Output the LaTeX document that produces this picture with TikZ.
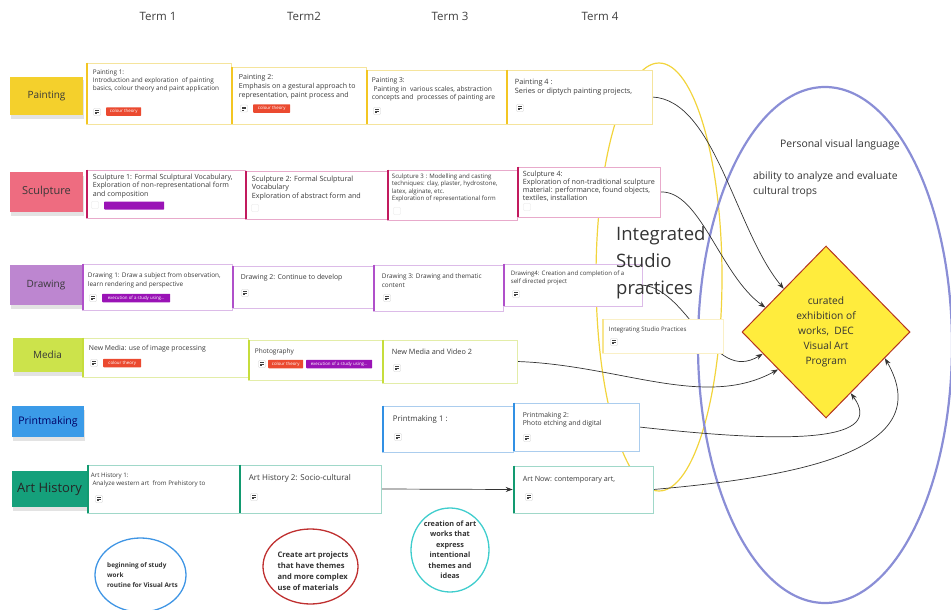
\documentclass[tikz,border=0pt]{standalone}
\usepackage{fontspec}
\setmainfont{Open Sans}
\usetikzlibrary{shapes.geometric,shadows,arrows.meta,calc}
\pgfdeclarelayer{bg}
\pgfsetlayers{bg,main}
\definecolor{txt}{HTML}{3A3A3A}
\definecolor{paintSt}{HTML}{F4D02C}
\definecolor{paintAcc}{HTML}{F3C623}
\definecolor{paintBd}{HTML}{F5E49C}
\definecolor{sculSt}{HTML}{EE6C80}
\definecolor{sculAcc}{HTML}{C21A5E}
\definecolor{sculBd}{HTML}{E8AACB}
\definecolor{drawSt}{HTML}{BD86D0}
\definecolor{drawAcc}{HTML}{B050CA}
\definecolor{drawBd}{HTML}{DCBBE8}
\definecolor{mediaSt}{HTML}{CCE34B}
\definecolor{mediaAcc}{HTML}{C6DD3C}
\definecolor{mediaBd}{HTML}{E3EDA8}
\definecolor{printSt}{HTML}{3B9BE8}
\definecolor{printAcc}{HTML}{3190E4}
\definecolor{printBd}{HTML}{ABCDEE}
\definecolor{artSt}{HTML}{15A07B}
\definecolor{artAcc}{HTML}{129A70}
\definecolor{artBd}{HTML}{A0D8C9}
\definecolor{ispAcc}{HTML}{F8E58E}
\definecolor{ispBd}{HTML}{FAF0C6}
\definecolor{tagRed}{HTML}{EB4A30}
\definecolor{tagPurple}{HTML}{9A13B6}
\definecolor{ellYellow}{HTML}{F2D43C}
\definecolor{ellBlue}{HTML}{8A8ED6}
\definecolor{diaFill}{HTML}{FFEC3D}
\definecolor{diaDraw}{HTML}{B5341F}
\definecolor{circBlue}{HTML}{3F95E4}
\definecolor{circRed}{HTML}{BF3030}
\definecolor{circTeal}{HTML}{3FCDCD}
\definecolor{connCol}{HTML}{333333}

% name, x, y, w, h, family, font style, text offset (x,y), text
\newcommand\card[9]{%
  \node[cardbox, draw=#6Bd, minimum width=#4pt, minimum height=#5pt] (#1) at ({#2+#4/2},{#3+#5/2}) {};
  \draw[#6Acc, line width=2pt] ([xshift=1pt]#1.north west) -- ([xshift=1pt]#1.south west);
  \node[cardtext, #7] (#1-t) at ([shift={(#8)}]#1.north west) {#9};}
\newcommand\noteicon[2]{\node[noteic] (#1) at #2 {};}
\newcommand\faintsq[2]{\node[faintic] (#1) at #2 {};}

\begin{document}
\begin{tikzpicture}[x=1pt,y=-1pt,
  cardbox/.style={fill=white, line width=0.6pt, inner sep=0pt},
  cardtext/.style={anchor=north west, align=left, inner sep=0pt, text=txt},
  fs/.style 2 args={font=\fontsize{#1}{#2}\selectfont},
  sticky/.style={inner sep=0pt, text=black!78, font=\fontsize{10}{12}\selectfont,
     drop shadow={shadow xshift=1pt, shadow yshift=-3.5pt, opacity=0.22}},
  noteic/.style={draw=black!18, fill=white, minimum size=7pt, inner sep=0pt, rounded corners=0.8pt,
     path picture={\draw[black!75, line width=0.55pt]
       ([shift={(-2pt,1.5pt)}]path picture bounding box.center) -- ++(4pt,0pt)
       ([shift={(-2pt,0pt)}]path picture bounding box.center) -- ++(4pt,0pt)
       ([shift={(-2pt,-1.5pt)}]path picture bounding box.center) -- ++(2.4pt,0pt);}},
  faintic/.style={draw=black!10, fill=white, minimum size=7pt, inner sep=0pt, rounded corners=0.8pt},
  tag/.style={fill=#1, text=white, font=\fontsize{4.4}{5}\selectfont, inner xsep=1.5pt, inner ysep=0pt,
     minimum height=8.5pt, anchor=west, rounded corners=0.6pt},
  conn/.style={draw=connCol, line width=0.7pt, -{Stealth[length=7pt,width=5pt]}},
  term/.style={font=\fontsize{11.5}{13}\selectfont, text=black!75},
  bubble/.style={text=black!80, inner sep=0pt}
]
\path[use as bounding box] (0,0) rectangle (951,610);

% term headers
\node[term] (t1) at (158,16) {Term 1};
\node[term] (t2) at (304,16) {Term2};
\node[term] (t3) at (450,16) {Term 3};
\node[term] (t4) at (600,16) {Term 4};

% row labels
\node[sticky, fill=paintSt, minimum width=73pt, minimum height=38pt] (painting) at (46.5,96) {Painting};
\node[sticky, fill=sculSt, font=\fontsize{11}{13}\selectfont, minimum width=73pt, minimum height=40pt] (sculpture) at (46.5,192) {Sculpture};
\node[sticky, fill=drawSt, minimum width=72pt, minimum height=40pt] (drawing) at (46,285) {Drawing};
\node[sticky, fill=mediaSt, minimum width=70pt, minimum height=34pt] (media) at (47.5,355) {Media};
\node[sticky, fill=printSt, text=blue!40!black, font=\fontsize{10.5}{12}\selectfont, minimum width=72pt, minimum height=31pt] (printmaking) at (48,421.5) {Printmaking};
\node[sticky, fill=artSt, text=black!85, font=\fontsize{13}{15}\selectfont, minimum width=75pt, minimum height=36pt] (arthistory) at (49.5,489) {Art History};

% Painting row
\card{p1}{86}{63}{145}{61}{paint}{fs={6.4}{8.2}}{7,7}{Painting 1:\\Introduction and exploration\ \ of painting\\basics, colour theory and paint application}
\noteicon{p1i}{(97,112)}
\node[tag=tagRed, minimum width=35pt] (p1g) at (106,111.5) {colour theory};
\card{p2}{231}{67}{135}{57}{paint}{fs={7}{9}}{8,7}{Painting 2:\\Emphasis on a gestural approach to\\representation, paint process and}
\noteicon{p2i}{(244,108.5)}
\node[tag=tagRed, minimum width=37pt] (p2g) at (253,108.5) {colour theory};
\card{p3}{366}{70}{140}{54}{paint}{fs={6.7}{8.4}}{6,8}{Painting 3:\\\ Painting in\ \ various scales, abstraction\\concepts and\ \ processes of painting are}
\noteicon{p3i}{(377,111)}
\card{p4}{506}{70}{146}{54}{paint}{fs={7.3}{8.8}}{9,9}{Painting 4 :\\Series or diptych painting projects,}
\noteicon{p4i}{(520,108)}

% Sculpture row
\card{s1}{86}{170}{159}{48}{scul}{fs={7.1}{8.4}}{7,4}{Sculpture 1: Formal Sculptural Vocabulary,\\Exploration of non-representational form\\and composition}
\faintsq{s1i}{(95,205)}
\node[tag=tagPurple, minimum width=60pt, minimum height=8pt] (s1g) at (104,205.5) {};
\card{s2}{245}{171}{142}{48}{scul}{fs={7.2}{8.6}}{7,5}{Sculpture 2: Formal Sculptural\\Vocabulary\\Exploration of abstract form and}
\faintsq{s2i}{(255,208)}
\card{s3}{387}{170}{130}{50}{scul}{fs={6.1}{7.3}}{5,4}{Sculpture 3 : Modelling and casting\\techniques: clay, plaster, hydrostone,\\latex, alginate, etc.\\Exploration of representational form}
\faintsq{s3i}{(397,211)}
\card{s4}{517}{167}{143}{50}{scul}{fs={7.2}{8.2}}{6,4}{Sculpture 4:\\Exploration of non-traditional sculpture\\material: performance, found objects,\\textiles, installation}
\faintsq{s4i}{(527,207)}

% Drawing row
\card{d1}{82}{264}{150}{46}{draw}{fs={6.4}{8.5}}{6,9}{Drawing 1: Draw a subject from observation,\\learn rendering and perspective}
\noteicon{d1i}{(93,298)}
\node[tag=tagPurple, minimum width=68pt] (d1g) at (102,298) {execution of a study using...};
\card{d2}{232}{266}{141}{42}{draw}{fs={6.9}{8.5}}{9,8}{Drawing 2: Continue to develop}
\noteicon{d2i}{(245,293)}
\card{d3}{373}{265}{130}{46}{draw}{fs={6.4}{8.3}}{9,9}{Drawing 3: Drawing and thematic\\content}
\noteicon{d3i}{(387,298)}
\card{d4}{503}{264}{139}{42}{draw}{fs={6.1}{7.8}}{8,7}{Drawing4: Creation and completion of a\\self directed project}
\noteicon{d4i}{(516,294)}

% Media row
\card{m1}{82}{338}{166}{39}{media}{fs={6.85}{8.5}}{7,7}{New Media: use of image processing}
\noteicon{m1i}{(94,363)}
\node[tag=tagRed, minimum width=38pt] (m1g) at (103,363) {colour theory};
\card{m2}{248}{340}{134}{40}{media}{fs={6.5}{8.5}}{7,9}{Photography}
\noteicon{m2i}{(262,364)}
\node[tag=tagRed, minimum width=35pt] (m2g) at (268,364) {colour theory};
\node[tag=tagPurple, minimum width=66pt] (m2h) at (306,364) {execution of a study using...};
\card{m3}{382}{340}{135}{43}{media}{fs={7.3}{9}}{10,9}{New Media and Video 2}
\noteicon{m3i}{(397,368)}

% Integrating studio practices card
\card{isp}{602}{319}{121}{34}{isp}{fs={6.1}{7}}{7,8}{Integrating Studio Practices}
\noteicon{ispi}{(614,342)}

% Printmaking row
\card{pr1}{382}{406}{131}{46}{print}{fs={7.8}{9}}{11,10}{Printmaking 1 :}
\noteicon{pr1i}{(398,437)}
\card{pr2}{513}{403}{126}{48}{print}{fs={6.8}{8.2}}{10,9}{Printmaking 2:\\Photo etching and digital}
\noteicon{pr2i}{(527,438)}

% Art history row
\card{ah1}{87}{465}{152}{48}{art}{fs={6.2}{7.8}}{4,8}{Art History 1:\\\ Analyze western art\ \ from Prehistory to}
\noteicon{ah1i}{(99,499)}
\card{ah2}{239}{465}{142}{48}{art}{fs={8}{9}}{10,10}{Art History 2: Socio-cultural}
\noteicon{ah2i}{(254,497)}
\card{an}{513}{466}{140}{47}{art}{fs={7.2}{9}}{10,10}{Art Now: contemporary art,}
\noteicon{ani}{(529,497)}

% goal diamond
\node[diamond, draw=diaDraw, fill=diaFill, line width=1pt, minimum width=168pt, minimum height=172pt,
      inner sep=0pt, align=center, font=\fontsize{10.2}{15}\selectfont, text=black!80] (goal) at (826,332)
      {curated\\exhibition of\\works,\ \ DEC\\Visual Art\\Program};

% free texts
\node[anchor=north west, align=left, inner sep=0pt, font=\fontsize{18.5}{27}\selectfont, text=black!80] (isptext) at (616,226) {Integrated\\Studio\\practices};
\node[font=\fontsize{10.4}{12}\selectfont, text=black!80] (pvl) at (840,145) {Personal visual language};
\node[anchor=west, align=left, inner sep=0pt, font=\fontsize{10.3}{14.5}\selectfont, text=black!80] (abil) at (753,184.5) {ability to analyze and evaluate\\cultural trops};

% bottom bubbles
\node[ellipse, draw=circBlue, line width=1.3pt, minimum width=91pt, minimum height=74pt] (b1) at (140.5,575) {};
\node[bubble, align=left, font=\bfseries\fontsize{6.4}{10}\selectfont] (b1t) at (142.5,575) {beginning of study\\work\\routine for Visual Arts};
\node[ellipse, draw=circRed, line width=1.3pt, minimum width=95pt, minimum height=75pt] (b2) at (310.5,566.5) {};
\node[bubble, align=left, font=\bfseries\fontsize{7.6}{11}\selectfont] (b2t) at (313,571) {Create art projects\\that have themes\\and more complex\\use of materials};
\node[ellipse, draw=circTeal, line width=1.3pt, minimum width=78pt, minimum height=84pt] (b3) at (450,550) {};
\node[bubble, align=center, font=\bfseries\fontsize{7.3}{10.5}\selectfont] (b3t) at (450,549.5) {creation of art\\works that\\express\\intentional\\themes and\\ideas};

% background: ellipses and connectors
\begin{pgfonlayer}{bg}
\draw[ellYellow, line width=1.2pt] (659,277) ellipse [x radius=63pt, y radius=214pt];
\draw[ellBlue, line width=2.2pt] (825,345) ellipse [x radius=127pt, y radius=258pt];
\draw[conn] (p4.east) .. controls (715,100) and (735,230) .. (goal.north west);
\draw[conn] (s4.east) .. controls (700,190) and (720,275) .. (goal.158);
\draw[conn] (d4.east) .. controls (690,290) and (712,385) .. (goal.199);
\draw[conn] (m3.east) .. controls (620,365) and (705,410) .. (goal.218);
\draw[conn] (pr2.east) .. controls (800,445) and (885,440) .. (goal.292);
\draw[conn] (an.east) .. controls (820,475) and (935,445) .. (goal.336);
\draw[conn] (ah2.east) -- (an.west);
\end{pgfonlayer}
\end{tikzpicture}
\end{document}
